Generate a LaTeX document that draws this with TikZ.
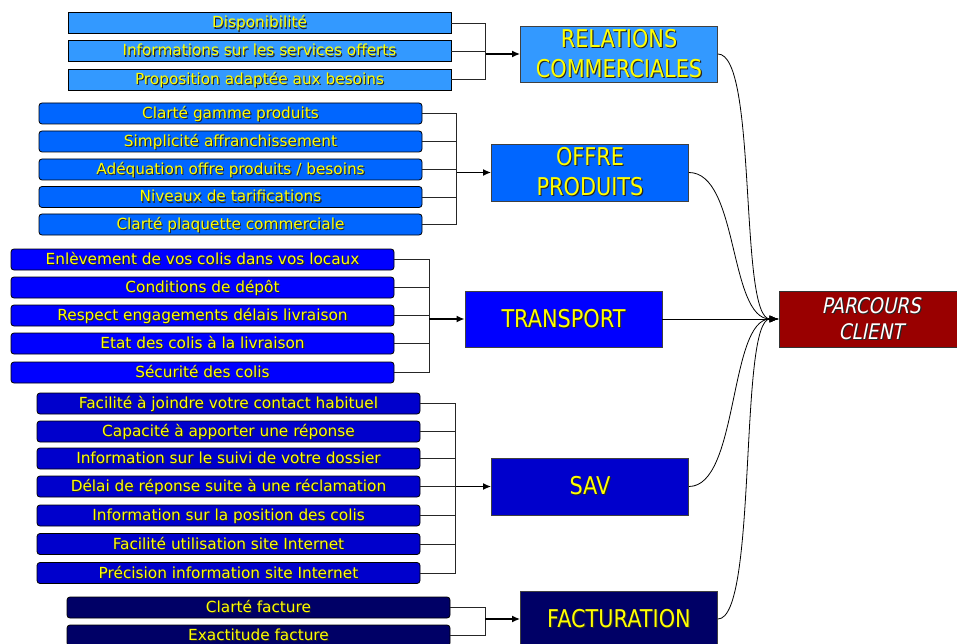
\documentclass[tikz,border=0pt]{standalone}
\usepackage{fontspec}
\setmainfont{DejaVu Sans}
\newfontfamily\bigfont[FakeStretch=0.85]{DejaVu Sans}
\newfontfamily\pcfont[FakeStretch=0.85,FakeSlant=0.2]{DejaVu Sans}
\usetikzlibrary{arrows.meta}
\definecolor{cRC}{HTML}{3399FF}
\definecolor{cOF}{HTML}{0066FF}
\definecolor{cTR}{HTML}{0000FF}
\definecolor{cSV}{HTML}{0000CC}
\definecolor{cFA}{HTML}{000066}
\definecolor{cPC}{HTML}{990000}
\definecolor{txtY}{HTML}{FFFF00}
\newcommand\shd[1]{\makebox[0pt][l]{\hspace{1.1pt}\raisebox{-1.1pt}{\textcolor{black!85}{#1}}}#1}
\tikzset{
  item/.style={draw=black, line width=0.8pt, minimum width=383pt, minimum height=21pt,
    inner sep=0pt, text=txtY, font=\fontsize{15.3}{18}\selectfont,
    text height=12.5pt, text depth=2.5pt},
  ritem/.style={item, rounded corners=3pt},
  bigbox/.style={draw=black!75, line width=0.8pt, minimum width=197pt, minimum height=56pt,
    inner sep=0pt, text=txtY, align=center, font=\bigfont\fontsize{24.5}{30}\selectfont},
  br/.style={draw=black!85, line width=0.8pt},
  barr/.style={draw=black, line width=1.5pt, -{Latex[length=8pt,width=7pt]}},
  cv/.style={draw=black, line width=0.8pt, -{Latex[length=9pt,width=7pt]}}
}
\begin{document}
\begin{tikzpicture}[x=1pt,y=-1pt]
\useasboundingbox (0,0) rectangle (957,644);
\fill[white] (0,0) rectangle (957,644);
\clip (0,0) rectangle (957,644);

% main boxes
\node[bigbox, fill=cRC] (rc) at (619,54) {\shd{RELATIONS}\\\shd{COMMERCIALES}};
\node[bigbox, fill=cOF, minimum height=57pt] (of) at (590,172.5) {\shd{OFFRE}\\\shd{PRODUITS}};
\node[bigbox, fill=cTR] (tr) at (563.5,319) {\shd{TRANSPORT}};
\node[bigbox, fill=cSV, minimum height=57pt] (sv) at (590,486.5) {\shd{SAV}};
\node[bigbox, fill=cFA] (fa) at (619,619) {\shd{FACTURATION}};
\node[draw=black!80, line width=0.8pt, fill=cPC, minimum width=184pt, minimum height=56pt,
  inner sep=0pt, text=white, align=center, font=\pcfont\fontsize{21.5}{26}\selectfont]
  (pc) at (871,319) {\shd{PARCOURS}\\\shd{CLIENT}};

% relations commerciales items
\node[item, fill=cRC] (rc1) at (259.5,23) {\shd{Disponibilité}};
\node[item, fill=cRC] (rc2) at (259.5,51) {\shd{Informations sur les services offerts}};
\node[item, fill=cRC] (rc3) at (259.5,79.5) {\shd{Proposition adaptée aux besoins}};

% offre produits items
\node[ritem, fill=cOF] (of1) at (230.5,113.5) {\shd{Clarté gamme produits}};
\node[ritem, fill=cOF] (of2) at (230.5,141.5) {\shd{Simplicité affranchissement}};
\node[ritem, fill=cOF] (of3) at (230.5,169.5) {\shd{Adéquation offre produits / besoins}};
\node[ritem, fill=cOF] (of4) at (230.5,197) {\shd{Niveaux de tarifications}};
\node[ritem, fill=cOF] (of5) at (230.5,224.5) {\shd{Clarté plaquette commerciale}};

% transport items
\node[ritem, fill=cTR] (tr1) at (202.5,259.5) {\shd{Enlèvement de vos colis dans vos locaux}};
\node[ritem, fill=cTR] (tr2) at (202.5,287.5) {\shd{Conditions de dépôt}};
\node[ritem, fill=cTR] (tr3) at (202.5,315.5) {\shd{Respect engagements délais livraison}};
\node[ritem, fill=cTR] (tr4) at (202.5,343.5) {\shd{Etat des colis à la livraison}};
\node[ritem, fill=cTR] (tr5) at (202.5,372.5) {\shd{Sécurité des colis}};

% SAV items
\node[ritem, fill=cSV] (sv1) at (228.5,403.5) {\shd{Facilité à joindre votre contact habituel}};
\node[ritem, fill=cSV] (sv2) at (228.5,431.5) {\shd{Capacité à apporter une réponse}};
\node[ritem, fill=cSV] (sv3) at (228.5,458.5) {\shd{Information sur le suivi de votre dossier}};
\node[ritem, fill=cSV] (sv4) at (228.5,486.5) {\shd{Délai de réponse suite à une réclamation}};
\node[ritem, fill=cSV] (sv5) at (228.5,515.5) {\shd{Information sur la position des colis}};
\node[ritem, fill=cSV] (sv6) at (228.5,544) {\shd{Facilité utilisation site Internet}};
\node[ritem, fill=cSV] (sv7) at (228.5,573) {\shd{Précision information site Internet}};

% facturation items
\node[ritem, fill=cFA] (fa1) at (258.5,607.5) {\shd{Clarté facture}};
\node[ritem, fill=cFA] (fa2) at (258.5,635.5) {\shd{Exactitude facture}};

% bracket junctions
\coordinate (rcb) at (485.6,54);
\coordinate (ofb) at (456.8,172.5);
\coordinate (trb) at (429,319);
\coordinate (svb) at (455.8,486.5);
\coordinate (fab) at (485,619);

\foreach \n in {rc1,rc2,rc3} \draw[br] (\n.east) -| (rcb);
\foreach \n in {of1,of2,of3,of4,of5} \draw[br] (\n.east) -| (ofb);
\foreach \n in {tr1,tr2,tr3,tr4,tr5} \draw[br] (\n.east) -| (trb);
\foreach \n in {sv1,sv2,sv3,sv4,sv5,sv6,sv7} \draw[br] (\n.east) -| (svb);
\foreach \n in {fa1,fa2} \draw[br] (\n.east) -| (fab);

\draw[barr] (rcb) -- (rc.west);
\draw[barr] (ofb) -- (of.west);
\draw[barr] (trb) -- (tr.west);
\draw[barr] (svb) -- (sv.west);
\draw[barr] (fab) -- (fa.west);

% connectors to parcours client
\draw[cv] (rc.east) .. controls +(40,0) and +(-40,0) .. (pc.west);
\draw[cv] (of.east) .. controls +(50,0) and +(-50,0) .. (pc.west);
\draw[cv] (tr.east) -- (pc.west);
\draw[cv] (sv.east) .. controls +(50,0) and +(-50,0) .. (pc.west);
\draw[cv] (fa.east) .. controls +(40,0) and +(-40,0) .. (pc.west);
\end{tikzpicture}
\end{document}
